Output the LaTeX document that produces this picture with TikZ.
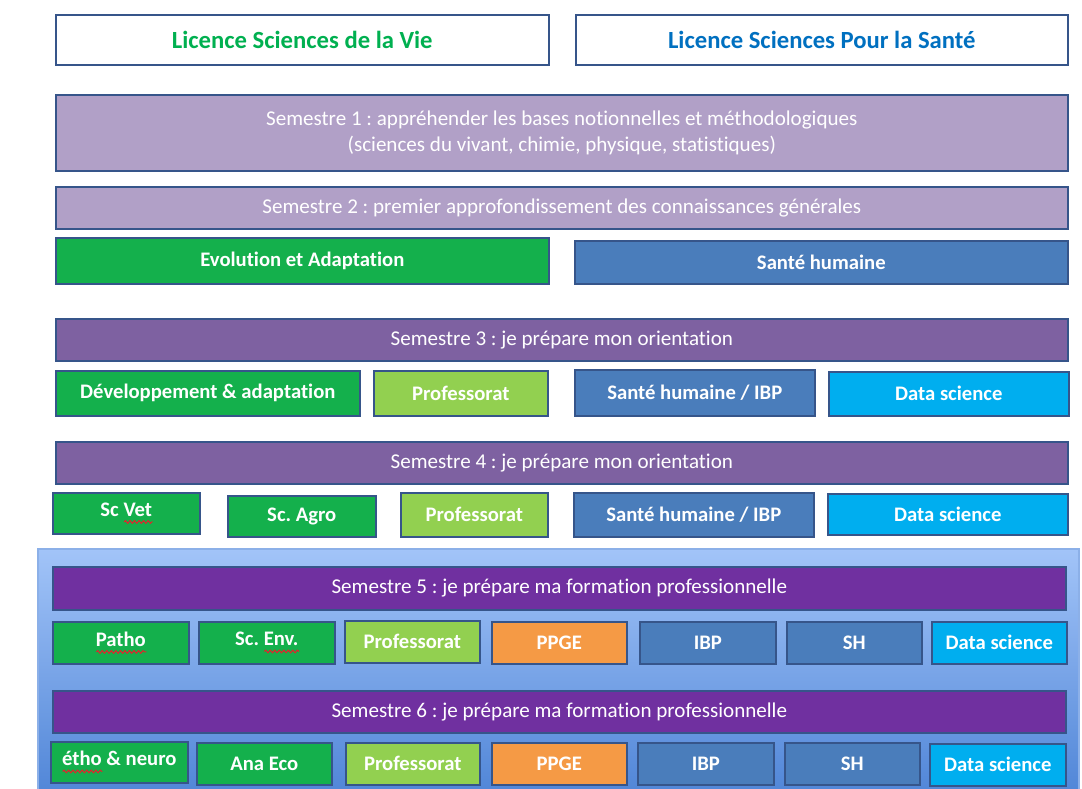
\documentclass[tikz,border=0pt]{standalone}
\usepackage{fontspec}
\setmainfont{Carlito}[Ligatures=NoCommon]
\usetikzlibrary{decorations.pathmorphing}
\definecolor{spellred}{HTML}{E8202A}
\frenchspacing

% red wavy underline, as a spell checker marks a word
\newlength\spellw
\newcommand\spellwave[1]{\settowidth\spellw{#1}%
  \rlap{\tikz[baseline=0pt,x=1pt,y=1pt]\draw[spellred,line width=0.75pt,
    decorate,decoration={snake,amplitude=1pt,segment length=3.4pt}]
    (0,-4.2) -- (\spellw,-4.2);}#1}

\definecolor{edge}{HTML}{36558A}
\definecolor{lilac}{HTML}{B1A0C7}
\definecolor{violet}{HTML}{7E61A1}
\definecolor{purple}{HTML}{7030A0}
\definecolor{leaf}{HTML}{14B04C}
\definecolor{lime}{HTML}{92D050}
\definecolor{steel}{HTML}{4A7DBB}
\definecolor{sky}{HTML}{00AEEF}
\definecolor{apricot}{HTML}{F59A45}
\definecolor{titlegreen}{HTML}{00B050}
\definecolor{titleblue}{HTML}{0070C0}
\definecolor{panetop}{RGB}{162,196,248}
\definecolor{panebottom}{RGB}{82,135,216}
\definecolor{paneedge}{RGB}{140,176,232}

% box placed by its corners, in pixel units
\newcommand\boxat[7]{%
  \node[#2, anchor=north west, minimum width={(#5-#3)*0.75pt},
        minimum height={(#6-#4)*0.75pt}] (#1) at (#3,#4) {#7};}

\begin{document}
\begin{tikzpicture}[x=0.75pt,y=-0.75pt,
  cell/.style={draw=edge, line width=1.2pt, inner sep=0pt, text=white,
    font=\fontsize{15.5}{18}\selectfont\bfseries},
  title/.style={cell, fill=white, font=\fontsize{18.5}{22}\selectfont\bfseries},
  sembar/.style={cell, font=\fontsize{15.8}{19.5}\selectfont, align=center},
  sem1/.style={sembar, fill=lilac},
  sem3/.style={sembar, fill=violet},
  sem5/.style={sembar, fill=purple},
  green/.style={cell, fill=leaf},
  prof/.style={cell, fill=lime},
  health/.style={cell, fill=steel},
  data/.style={cell, fill=sky},
  ppge/.style={cell, fill=apricot}]

\useasboundingbox (0,0) rectangle (1082,789);
\fill[white] (0,0) rectangle (1082,789);

% panel behind semesters 5 and 6
\shade[top color=panetop, bottom color=panebottom] (38,549) rectangle (1079,789);
\draw[paneedge, line width=0.8pt] (38,789) -- (38,549) -- (1079,549) -- (1079,789);

% the two degrees
\boxat{lsv}{title, text=titlegreen}{55}{14}{548}{64}{Licence Sciences de la Vie}
\boxat{lsps}{title, text=titleblue}{575}{14}{1067}{64}{Licence Sciences Pour la Santé}

% first year
\boxat{s1}{sem1}{55}{94}{1067}{170}{Semestre 1 : appréhender les bases notionnelles et méthodologiques\\(sciences du vivant, chimie, physique, statistiques)}
\boxat{s2}{sem1}{55}{186}{1067}{228}{Semestre 2 : premier approfondissement des connaissances générales}
\boxat{evo}{green}{55}{237}{548}{283}{Evolution et Adaptation}
\boxat{sante}{health}{574}{240}{1067}{283}{Santé humaine}

% second year
\boxat{s3}{sem3}{55}{318}{1067}{360}{Semestre 3 : je prépare mon orientation}
\boxat{dev}{green}{55}{370}{359}{415}{Développement \& adaptation}
\boxat{prof3}{prof}{373}{370}{547}{415}{Professorat}
\boxat{ibp3}{health}{574}{369}{814}{415}{Santé humaine / IBP}
\boxat{data3}{data}{828}{371}{1068}{415}{Data science}

\boxat{s4}{sem3}{55}{441}{1067}{483}{Semestre 4 : je prépare mon orientation}
\boxat{vet}{green}{52}{492}{199}{533}{Sc \spellwave{Vet}}
\boxat{agro}{green}{227}{495}{375}{536}{Sc. Agro}
\boxat{prof4}{prof}{400}{492}{547}{536}{Professorat}
\boxat{ibp4}{health}{573}{492}{813}{536}{Santé humaine / IBP}
\boxat{data4}{data}{827}{493}{1067}{534}{Data science}

% third year
\boxat{s5}{sem5}{52}{566}{1065}{609}{Semestre 5 : je prépare ma formation professionnelle}
\boxat{patho}{green}{52}{621}{188}{663}{\spellwave{Patho}}
\boxat{env}{green}{198}{621}{334}{663}{Sc. \spellwave{Env.}}
\boxat{prof5}{prof}{344}{620}{479}{662}{Professorat}
\boxat{ppge5}{ppge}{491}{621}{626}{663}{PPGE}
\boxat{ibp5}{health}{639}{621}{775}{663}{IBP}
\boxat{sh5}{health}{786}{621}{921}{663}{SH}
\boxat{data5}{data}{931}{621}{1066}{663}{Data science}

\boxat{s6}{sem5}{52}{690}{1065}{732}{Semestre 6 : je prépare ma formation professionnelle}
\boxat{etho}{green}{50}{741}{187}{782}{\spellwave{étho} \& neuro}
\boxat{eco}{green}{196}{742}{331}{784}{Ana Eco}
\boxat{prof6}{prof}{345}{742}{479}{784}{Professorat}
\boxat{ppge6}{ppge}{491}{742}{626}{784}{PPGE}
\boxat{ibp6}{health}{637}{742}{773}{784}{IBP}
\boxat{sh6}{health}{784}{742}{919}{784}{SH}
\boxat{data6}{data}{929}{743}{1065}{785}{Data science}
\end{tikzpicture}
\end{document}
